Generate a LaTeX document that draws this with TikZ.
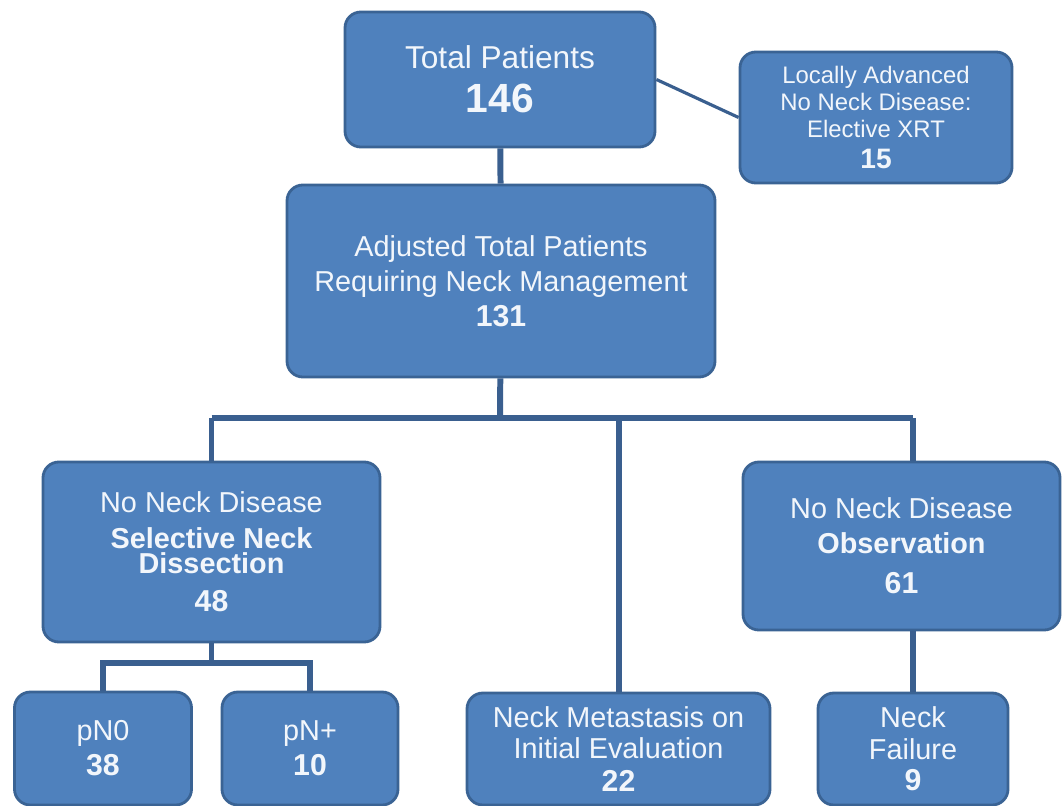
\documentclass[tikz,border=0pt]{standalone}
\usepackage{fontspec}
\setmainfont{Liberation Sans}
\usetikzlibrary{positioning}

\begin{document}
\begin{tikzpicture}[
  box/.style={draw=cedge, fill=cbox, rounded corners=4.5pt, line width=0.8pt,
              align=center, text=ctext, inner sep=1pt,
              font=\fontsize{8.2}{10}\selectfont},
  link/.style={draw=cline, line width=1.7pt},
  thinlink/.style={draw=cline, line width=0.9pt},
]
\definecolor{cbox}{HTML}{4F81BD}
\definecolor{cedge}{HTML}{3A6394}
\definecolor{cline}{HTML}{3A5F8F}
\definecolor{ctext}{HTML}{F2F6FB}
\clip (0,0) rectangle (10.63,-8.06);
% top row
\node[box, minimum width=3.10cm, minimum height=1.35cm,
      font=\fontsize{9}{12.4}\selectfont] (total) at (5.00,-0.795)
  {Total Patients\\{\fontsize{11.6}{12}\selectfont\bfseries 146}};
\node[box, minimum width=2.72cm, minimum height=1.31cm,
      font=\fontsize{6.8}{7.8}\selectfont] (la) at (8.76,-1.175)
  {Locally Advanced\\No Neck Disease:\\Elective XRT\\[1pt]{\fontsize{8}{9}\selectfont\bfseries 15}};
\node[box, minimum width=4.28cm, minimum height=1.92cm] (adj) at (5.01,-2.81)
  {Adjusted Total Patients\\Requiring Neck Management\\{\fontsize{8.6}{10}\selectfont\bfseries 131}};
% middle row
\node[box, minimum width=3.37cm, minimum height=1.80cm] (sel) at (2.115,-5.52)
  {No Neck Disease\\\textbf{Selective Neck}\\[-2.9pt]\textbf{Dissection}\\[1pt]{\fontsize{8.6}{10}\selectfont\bfseries 48}};
\node[box, minimum width=3.17cm, minimum height=1.68cm] (obs) at (9.015,-5.46)
  {No Neck Disease\\\textbf{Observation}\\[1.4pt]{\fontsize{8.6}{10}\selectfont\bfseries 61}};
% bottom row
\node[box, minimum width=1.77cm, minimum height=1.13cm] (pn0) at (1.03,-7.485)
  {pN0\\{\fontsize{8.6}{10}\selectfont\bfseries 38}};
\node[box, minimum width=1.76cm, minimum height=1.13cm] (pnp) at (3.10,-7.485)
  {pN+\\{\fontsize{8.6}{10}\selectfont\bfseries 10}};
\node[box, minimum width=3.03cm, minimum height=1.12cm,
      font=\fontsize{8.2}{8.7}\selectfont] (nm) at (6.185,-7.49)
  {Neck Metastasis on\\Initial Evaluation\\[0.6pt]{\fontsize{8.6}{10}\selectfont\bfseries 22}};
\node[box, minimum width=1.90cm, minimum height=1.12cm,
      font=\fontsize{8.2}{9}\selectfont] (nf) at (9.13,-7.49)
  {Neck\\Failure\\{\fontsize{8.6}{10}\selectfont\bfseries 9}};
% connectors
\coordinate (bus) at (5.00,-4.18);
\coordinate (busl) at (2.115,-4.18);
\coordinate (busm) at (6.185,-4.18);
\coordinate (busr) at (9.13,-4.18);
\coordinate (sub) at (2.115,-6.63);
\draw[thinlink] (total.east) -- (la.west);
\draw[link] (total) -- (adj);
\draw[link] (adj) -- (bus);
\draw[link] (busl) -- (busr);
\draw[link] (busl) -- (sel);
\draw[link] (busm) -- (nm);
\draw[link] (busr) -- (busr |- obs.north);
\draw[link] (sel) -- (sub);
\draw[link] (pn0.north) |- (sub) -| (pnp.north);
\draw[link] (nf.north) -- (nf.north |- obs.south);
\end{tikzpicture}
\end{document}
